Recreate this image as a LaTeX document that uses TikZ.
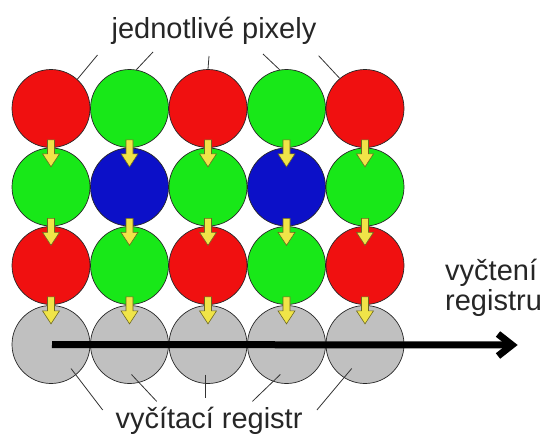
\documentclass[tikz,border=0pt]{standalone}
\usepackage{fontspec}
\setmainfont{Liberation Sans}
\definecolor{pr}{RGB}{240,16,16}
\definecolor{pg}{RGB}{24,232,24}
\definecolor{pb}{RGB}{12,16,200}
\definecolor{pgr}{RGB}{192,192,192}
\definecolor{yel}{RGB}{240,228,72}
\begin{document}
\begin{tikzpicture}[x=1pt,y=-1pt,
  pix/.style={circle, minimum size=78pt, inner sep=0pt, draw=black!85, line width=0.7pt},
  lbl/.style={font=\fontsize{29}{34}\selectfont, inner sep=0pt, text=black!85},
  ptr/.style={draw=black!80, line width=0.8pt},
  yarr/.style={fill=yel, draw=black!55!yel, line width=0.6pt, line join=miter},
  reg/.style={line width=7pt, draw=black},
]
\useasboundingbox (0,0) rectangle (546,434);
% pixel rows
\foreach \c [count=\i from 0] in {pr,pg,pr,pg,pr}
  \node[pix, fill=\c] (a\i) at (51+78.5*\i, 108.5) {};
\foreach \c [count=\i from 0] in {pg,pb,pg,pb,pg}
  \node[pix, fill=\c] (b\i) at (51+78.5*\i, 187) {};
\foreach \c [count=\i from 0] in {pr,pg,pr,pg,pr}
  \node[pix, fill=\c] (c\i) at (51+78.5*\i, 265.5) {};
\foreach \i in {0,...,4}
  \node[pix, fill=pgr] (d\i) at (51+78.5*\i, 344.5) {};
% yellow transfer arrows
\foreach \u in {a,b,c}
  \foreach \i in {0,...,4}
    \draw[yarr, shift={(\u\i.south)}] (-3.5,-8) -- (3.5,-8) -- (3.5,6) -- (8.5,6) -- (0,19) -- (-8.5,6) -- (-3.5,6) -- cycle;
% readout arrow
\coordinate (regend) at (512,345);
\draw[reg] ([xshift=1pt]d0.center) -- ([xshift=-4pt]regend);
\draw[reg, line join=miter] ([shift={(-14,-11)}]regend) -- (regend) -- ([shift={(-14,11)}]regend);
% labels
\node[lbl, anchor=base] (top) at (214,38) {jednotlivé pixely};
\node[lbl, anchor=base] (bot) at (209,428) {vyčítací registr};
\node[lbl, anchor=base west] (r1) at (445,280) {vyčtení};
\node[lbl, anchor=base west] (r2) at (445,310) {registru};
% top pointers
\coordinate (t0) at (97.5,55);
\coordinate (t1) at (153,52);
\coordinate (t2) at (209,56);
\coordinate (t3) at (263,54);
\coordinate (t4) at (318.6,55.7);
\draw[ptr] (t0) -- (a0.48);
\draw[ptr] (t1) -- (a1.80);
\draw[ptr] (t2) -- (a2.90);
\draw[ptr] (t3) -- (a3.100);
\draw[ptr] (t4) -- (a4.130);
% bottom pointers
\coordinate (u0) at (102.7,410);
\coordinate (u1) at (156.7,401.4);
\coordinate (u2) at (205.4,398);
\coordinate (u3) at (252.4,401.4);
\coordinate (u4) at (316.9,410);
\draw[ptr] ([shift={(20,24)}]d0.center) -- (u0);
\draw[ptr] ([shift={(2,30)}]d1.center) -- (u1);
\draw[ptr] ([shift={(-2.6,30)}]d2.center) -- (u2);
\draw[ptr] ([shift={(-6.2,30)}]d3.center) -- (u3);
\draw[ptr] ([shift={(-13.3,24)}]d4.center) -- (u4);
\end{tikzpicture}
\end{document}
